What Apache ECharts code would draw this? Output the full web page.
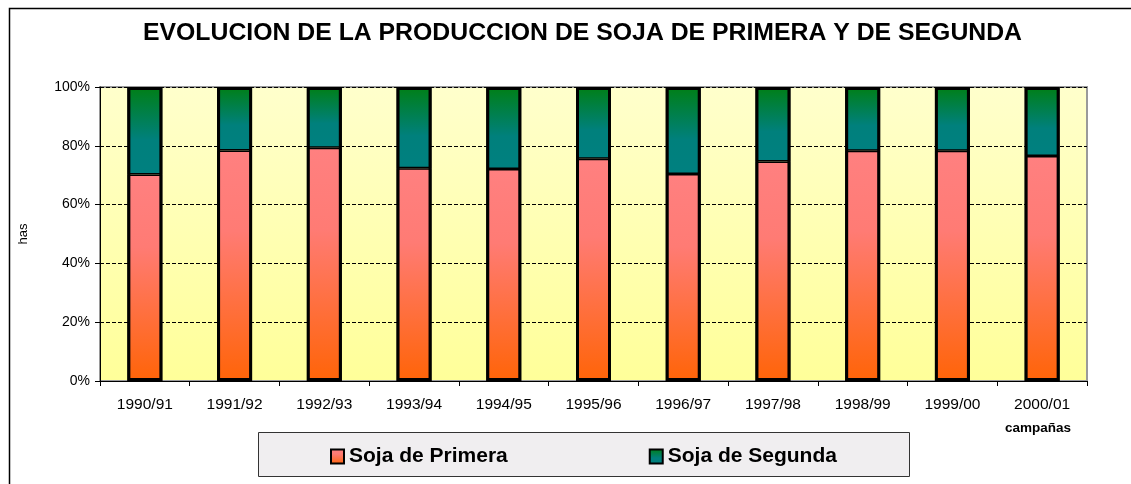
<!DOCTYPE html>
<html>
<head>
<meta charset="utf-8">
<script src="https://cdn.jsdelivr.net/npm/echarts@6/dist/echarts.min.js"></script>
<style>
  html, body { margin: 0; padding: 0; background: #fff; }
  #chart { width: 1131px; height: 484px; }
</style>
</head>
<body>
<div id="chart"></div>
<script>
// campaigns on the x axis
var campanas = ['1990/91', '1991/92', '1992/93', '1993/94', '1994/95', '1995/96',
  '1996/97', '1997/98', '1998/99', '1999/00', '2000/01']
// share of planted area (%)
var sojaPrimera = [70.2, 78.4, 79.3, 72.4, 72.1, 75.6, 70.4, 74.7, 78.3, 78.3, 76.5]
var sojaSegunda = [29.8, 21.6, 20.7, 27.6, 27.9, 24.4, 29.6, 25.3, 21.7, 21.7, 23.5]
// whole column, only used to draw the outer outline of each column
var totales = [100, 100, 100, 100, 100, 100, 100, 100, 100, 100, 100]
var yTicks = [0, 20, 40, 60, 80, 100]

var font = 'Liberation Sans, Arial, sans-serif'

var primeraColor = new echarts.graphic.LinearGradient(0, 0, 0, 1, [
  { offset: 0, color: '#FF8080' },
  { offset: 0.35, color: '#FF7B74' },
  { offset: 1, color: '#FF6408' }
])
var segundaColor = new echarts.graphic.LinearGradient(0, 0, 0, 1, [
  { offset: 0, color: '#007F16' },
  { offset: 0.6, color: '#00807C' },
  { offset: 1, color: '#008080' }
])

var chart = echarts.init(document.getElementById('chart'))

var option = {
  animation: false,
  textStyle: { fontFamily: font },
  title: {
    text: 'EVOLUCION DE LA PRODUCCION DE SOJA DE PRIMERA Y DE SEGUNDA',
    left: 143,
    top: 21,
    padding: 0,
    textStyle: { fontFamily: font, fontWeight: 'bold', fontSize: 24.8, color: '#000' }
  },
  grid: {
    left: 100,
    right: 44,
    top: 87,
    height: 294,
    show: true,
    borderColor: '#9a9a9a',
    borderWidth: 2,
    backgroundColor: new echarts.graphic.LinearGradient(0, 0, 0, 1, [
      { offset: 0, color: '#FFFFCC' },
      { offset: 1, color: '#FFFF99' }
    ])
  },
  legend: {
    left: 330,
    top: 446,
    padding: 0,
    itemGap: 141,
    itemWidth: 13,
    itemHeight: 14,
    icon: 'rect',
    textStyle: { fontFamily: font, fontWeight: 'bold', fontSize: 21, color: '#000' },
    data: ['Soja de Primera', 'Soja de Segunda']
  },
  xAxis: {
    type: 'category',
    data: campanas,
    boundaryGap: true,
    axisLine: { lineStyle: { color: '#000', width: 1 } },
    axisTick: { show: true, length: 5, lineStyle: { color: '#000' } },
    axisLabel: { color: '#000', fontSize: 15.5, margin: 16, fontFamily: font },
    name: 'campañas',
    nameLocation: 'end',
    nameGap: 0,
    nameTextStyle: {
      fontFamily: font, fontWeight: 'bold', fontSize: 13.5, color: '#000',
      align: 'right', verticalAlign: 'top', padding: [40, 16, 0, 0]
    }
  },
  yAxis: {
    type: 'value',
    min: 0,
    max: 100,
    interval: 20,
    axisLine: { show: true, lineStyle: { color: '#000', width: 1 } },
    axisTick: { show: true, length: 5, lineStyle: { color: '#000' } },
    axisLabel: {
      color: '#000', fontSize: 14, margin: 10, fontFamily: font,
      formatter: function (v) { return yTicks.indexOf(v) >= 0 ? v + '%' : '' }
    },
    splitLine: { show: true, lineStyle: { color: '#000', type: [4, 2], width: 1 } },
    name: 'has',
    nameLocation: 'middle',
    nameGap: 70,
    nameRotate: 90,
    nameTextStyle: { fontFamily: font, fontSize: 13, color: '#000' }
  },
  series: [
    {
      name: 'Soja de Primera',
      type: 'bar',
      stack: 'total',
      barWidth: 35,
      barGap: '-100%',
      data: sojaPrimera,
      itemStyle: { color: primeraColor, borderColor: '#000', borderWidth: 1.5 }
    },
    {
      name: 'Soja de Segunda',
      type: 'bar',
      stack: 'total',
      barWidth: 35,
      barGap: '-100%',
      data: sojaSegunda,
      itemStyle: { color: segundaColor, borderColor: '#000', borderWidth: 1.5 }
    },
    {
      name: 'contorno',
      type: 'bar',
      barWidth: 35,
      barGap: '-100%',
      z: 5,
      silent: true,
      data: totales,
      itemStyle: { color: 'rgba(0,0,0,0)', borderColor: '#000', borderWidth: 3 }
    }
  ],
  graphic: [
    {
      type: 'rect',
      z: -10,
      shape: { x: 9.5, y: 8.5, width: 1140, height: 500 },
      style: { fill: '#fff', stroke: '#000', lineWidth: 1.5 }
    },
    {
      type: 'rect',
      z: -5,
      shape: { x: 258.5, y: 432.5, width: 651, height: 44 },
      style: { fill: '#F0EEF0', stroke: '#333', lineWidth: 1 }
    }
  ]
}

chart.setOption(option)
</script>
</body>
</html>
